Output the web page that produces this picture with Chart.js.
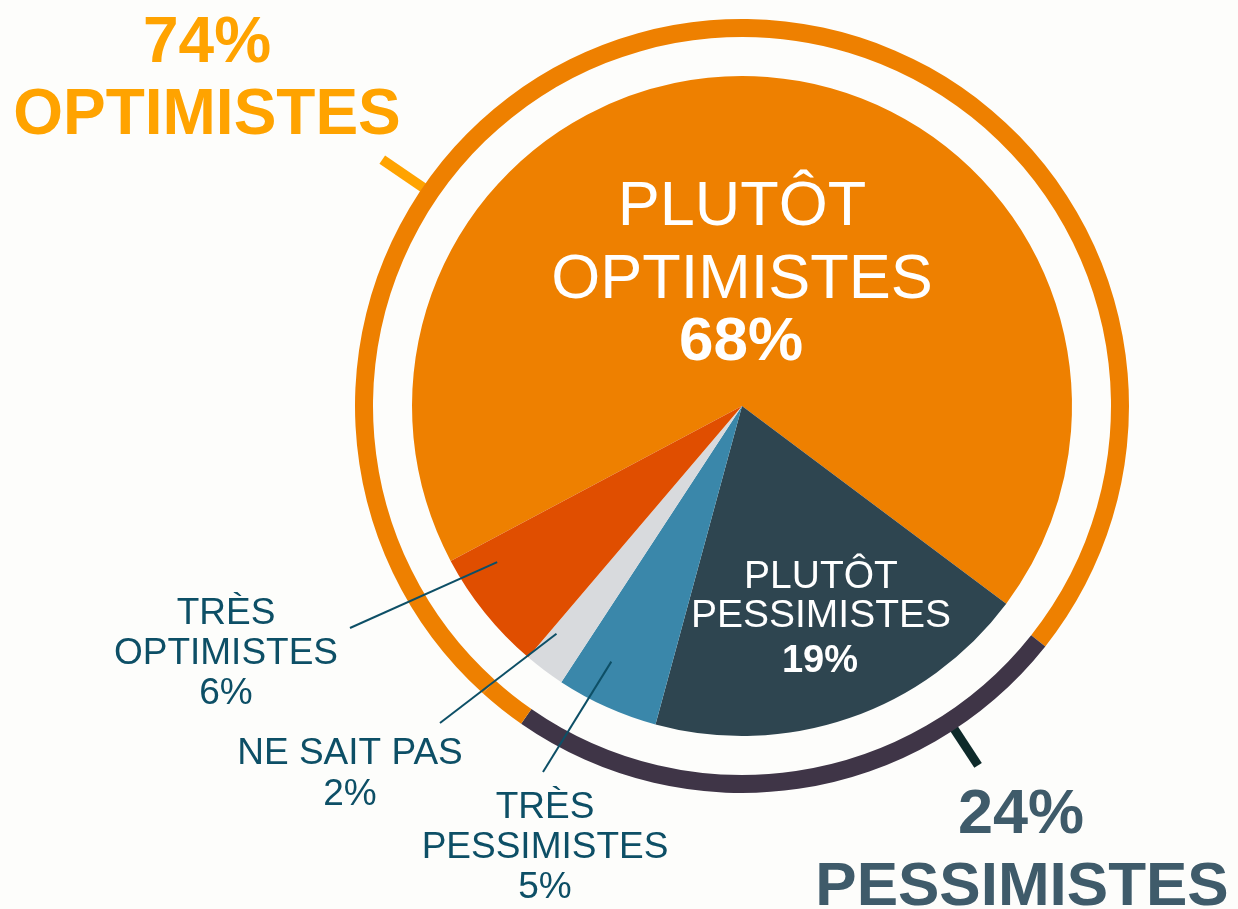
<!DOCTYPE html>
<html lang="fr">
<head>
<meta charset="utf-8">
<title>Optimistes / pessimistes</title>
<script src="https://cdn.jsdelivr.net/npm/chart.js@4.4.0/dist/chart.umd.min.js"></script>
<style>
	html, body { margin: 0; padding: 0; background: #fdfdfb; }
	#wrap { position: relative; width: 1238px; height: 909px; }
</style>
</head>
<body>
<div id="wrap"><canvas id="pieChart" width="1238" height="909"></canvas></div>
<script>
// inner pie: detail answers, clockwise
var detailLabels = ['PLUTÔT OPTIMISTES', 'PLUTÔT PESSIMISTES', 'TRÈS PESSIMISTES', 'NE SAIT PAS', 'TRÈS OPTIMISTES'];
var detailValues = [68, 19, 5, 2, 6];
var detailColors = ['#ee8000', '#2e4550', '#3a87aa', '#d8dadd', '#e04e00'];

// outer ring: totals
var totalLabels = ['OPTIMISTES', 'PESSIMISTES', 'NE SAIT PAS'];
var totalValues = [74, 24, 2];
var totalColors = ['#ee8000', '#3f3547', '#ee8000'];

var font = "'Liberation Sans', Arial, Helvetica, sans-serif";
var labelBlue = '#0d4f66';

var pieChart;

// texts, leader lines and ticks around the pie
var decorPlugin = {
	id: 'decor',
	beforeDatasetsDraw: function(chart) {
		var ctx = chart.ctx;
		var ring = chart.getDatasetMeta(0).data[0];
		var cx = ring.x, cy = ring.y, r = ring.outerRadius;
		var tick = function(deg, r1, r2, w, color) {
			var a = (deg - 90) * Math.PI / 180;
			ctx.save();
			ctx.strokeStyle = color;
			ctx.lineWidth = w;
			ctx.beginPath();
			ctx.moveTo(cx + r1 * Math.cos(a), cy + r1 * Math.sin(a));
			ctx.lineTo(cx + r2 * Math.cos(a), cy + r2 * Math.sin(a));
			ctx.stroke();
			ctx.restore();
		};
		tick(304.4, r - 6, r + 49, 10, '#ffa300');
		tick(146.7, r - 5, r + 43, 9, '#0e2a2a');
	},
	afterDraw: function(chart) {
		var ctx = chart.ctx;
		var arcs = chart.getDatasetMeta(2).data;

		var text = function(str, x, y, size, bold, color) {
			ctx.font = (bold ? 'bold ' : '') + size + 'px ' + font;
			ctx.fillStyle = color;
			ctx.textAlign = 'center';
			ctx.textBaseline = 'alphabetic';
			ctx.fillText(str, x, y);
		};
		var leader = function(i, angleFrac, radiusFrac, x2, y2) {
			var arc = arcs[i];
			var a = arc.startAngle + (arc.endAngle - arc.startAngle) * angleFrac;
			var rr = arc.outerRadius * radiusFrac;
			ctx.save();
			ctx.strokeStyle = labelBlue;
			ctx.lineWidth = 2;
			ctx.beginPath();
			ctx.moveTo(arc.x + rr * Math.cos(a), arc.y + rr * Math.sin(a));
			ctx.lineTo(x2, y2);
			ctx.stroke();
			ctx.restore();
		};

		// totals
		text(totalValues[0] + '%', 207, 62, 64, true, '#ffa300');
		text(totalLabels[0], 207, 134, 64, true, '#ffa300');
		text(totalValues[1] + '%', 1021, 833, 63, true, '#3f5b6a');
		text(totalLabels[1], 1022, 905, 62, true, '#3f5b6a');

		// labels inside the pie
		text('PLUTÔT', 742, 225, 63, false, '#ffffff');
		text('OPTIMISTES', 742, 298, 63, false, '#ffffff');
		text(detailValues[0] + '%', 741, 360, 62, true, '#ffffff');
		text('PLUTÔT', 821, 588, 39, false, '#ffffff');
		text('PESSIMISTES', 821, 627, 39, false, '#ffffff');
		text(detailValues[1] + '%', 820, 672, 38, true, '#ffffff');

		// small slices, labelled outside
		leader(4, 0.79, 0.88, 350, 628);
		leader(3, 0.83, 0.89, 440, 723);
		leader(2, 0.66, 0.87, 543, 772);
		text('TRÈS', 226, 624, 37, false, labelBlue);
		text('OPTIMISTES', 226, 664, 37, false, labelBlue);
		text(detailValues[4] + '%', 226, 704, 37, false, labelBlue);
		text('NE SAIT PAS', 350, 764, 37, false, labelBlue);
		text(detailValues[3] + '%', 350, 805, 37, false, labelBlue);
		text('TRÈS', 545, 818, 37, false, labelBlue);
		text('PESSIMISTES', 545, 858, 37, false, labelBlue);
		text(detailValues[2] + '%', 545, 898, 37, false, labelBlue);
	}
};

var ctx = document.getElementById('pieChart');
pieChart = new Chart(ctx, {
	type: 'pie',
	data: {
		labels: detailLabels,
		datasets: [{
			label: 'Total',
			data: totalValues,
			backgroundColor: totalColors,
			borderWidth: 0,
			hoverOffset: 0,
			rotation: 222,
			weight: 18
		}, {
			label: 'spacer',
			data: [1],
			backgroundColor: 'rgba(0,0,0,0)',
			borderWidth: 0,
			hoverOffset: 0,
			weight: 39
		}, {
			label: 'Détail',
			data: detailValues,
			backgroundColor: detailColors,
			borderWidth: 0,
			hoverOffset: 0,
			rotation: 242,
			weight: 330
		}]
	},
	options: {
		responsive: false,
		animation: false,
		events: [],
		layout: { padding: { left: 355, top: 19, right: 109, bottom: 116 } },
		plugins: {
			legend: { display: false },
			tooltip: { enabled: false }
		}
	},
	plugins: [decorPlugin]
});
</script>
</body>
</html>
